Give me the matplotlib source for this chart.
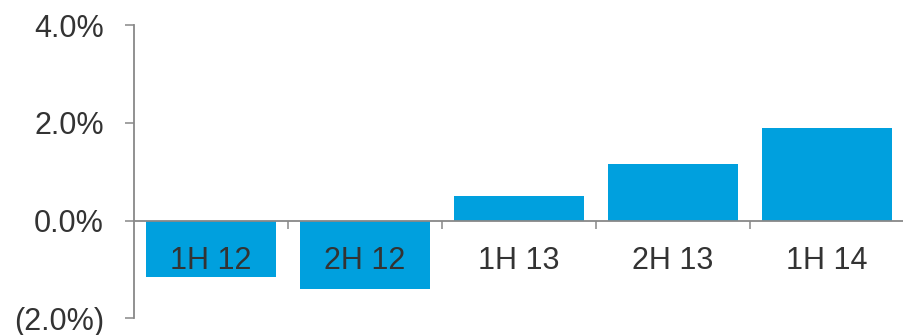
import matplotlib.pyplot as plt
from matplotlib.ticker import FixedLocator, FuncFormatter

plt.rcParams['font.family'] = ['Liberation Sans', 'DejaVu Sans']

periods = ["1H 12", "2H 12", "1H 13", "2H 13", "1H 14"]
growth = [-1.15, -1.40, 0.51, 1.16, 1.90]
y_ticks = [-2, 0, 2, 4]

bar_color = "#00A0DE"
axis_color = "#888888"
text_color = "#333333"

fig = plt.figure(figsize=(9.04, 3.35), dpi=100)
ax = fig.add_axes([0.148, 0.05, 0.852, 0.875])

x = list(range(len(periods)))
ax.bar(x, growth, width=0.84, color=bar_color, zorder=1)

ax.set_xlim(-0.5, len(periods) - 0.5)
ax.set_ylim(-2, 4)

# y axis
ax.set_yticks(y_ticks)
ax.yaxis.set_major_formatter(FuncFormatter(
    lambda v, p: f"{v:.1f}%" if v >= 0 else f"({abs(v):.1f}%)"))
ax.tick_params(axis="y", length=6.5, width=1.1, color=axis_color,
               pad=15, labelsize=22, labelcolor=text_color)

# x axis sits at zero, labels under the line, ticks between categories
ax.spines["bottom"].set_position(("data", 0))
ax.set_xticks(x)
ax.set_xticklabels(periods)
ax.tick_params(axis="x", which="major", length=0, pad=18.5,
               labelsize=22, labelcolor=text_color)
ax.xaxis.set_minor_locator(FixedLocator([i + 0.5 for i in x[:-1]]))
ax.tick_params(axis="x", which="minor", length=6, width=1.1,
               color=axis_color, direction="out")

for side in ["top", "right"]:
    ax.spines[side].set_visible(False)
for side in ["left", "bottom"]:
    ax.spines[side].set_color(axis_color)
    ax.spines[side].set_linewidth(1.3)

fig.savefig("out.png", dpi=100)
